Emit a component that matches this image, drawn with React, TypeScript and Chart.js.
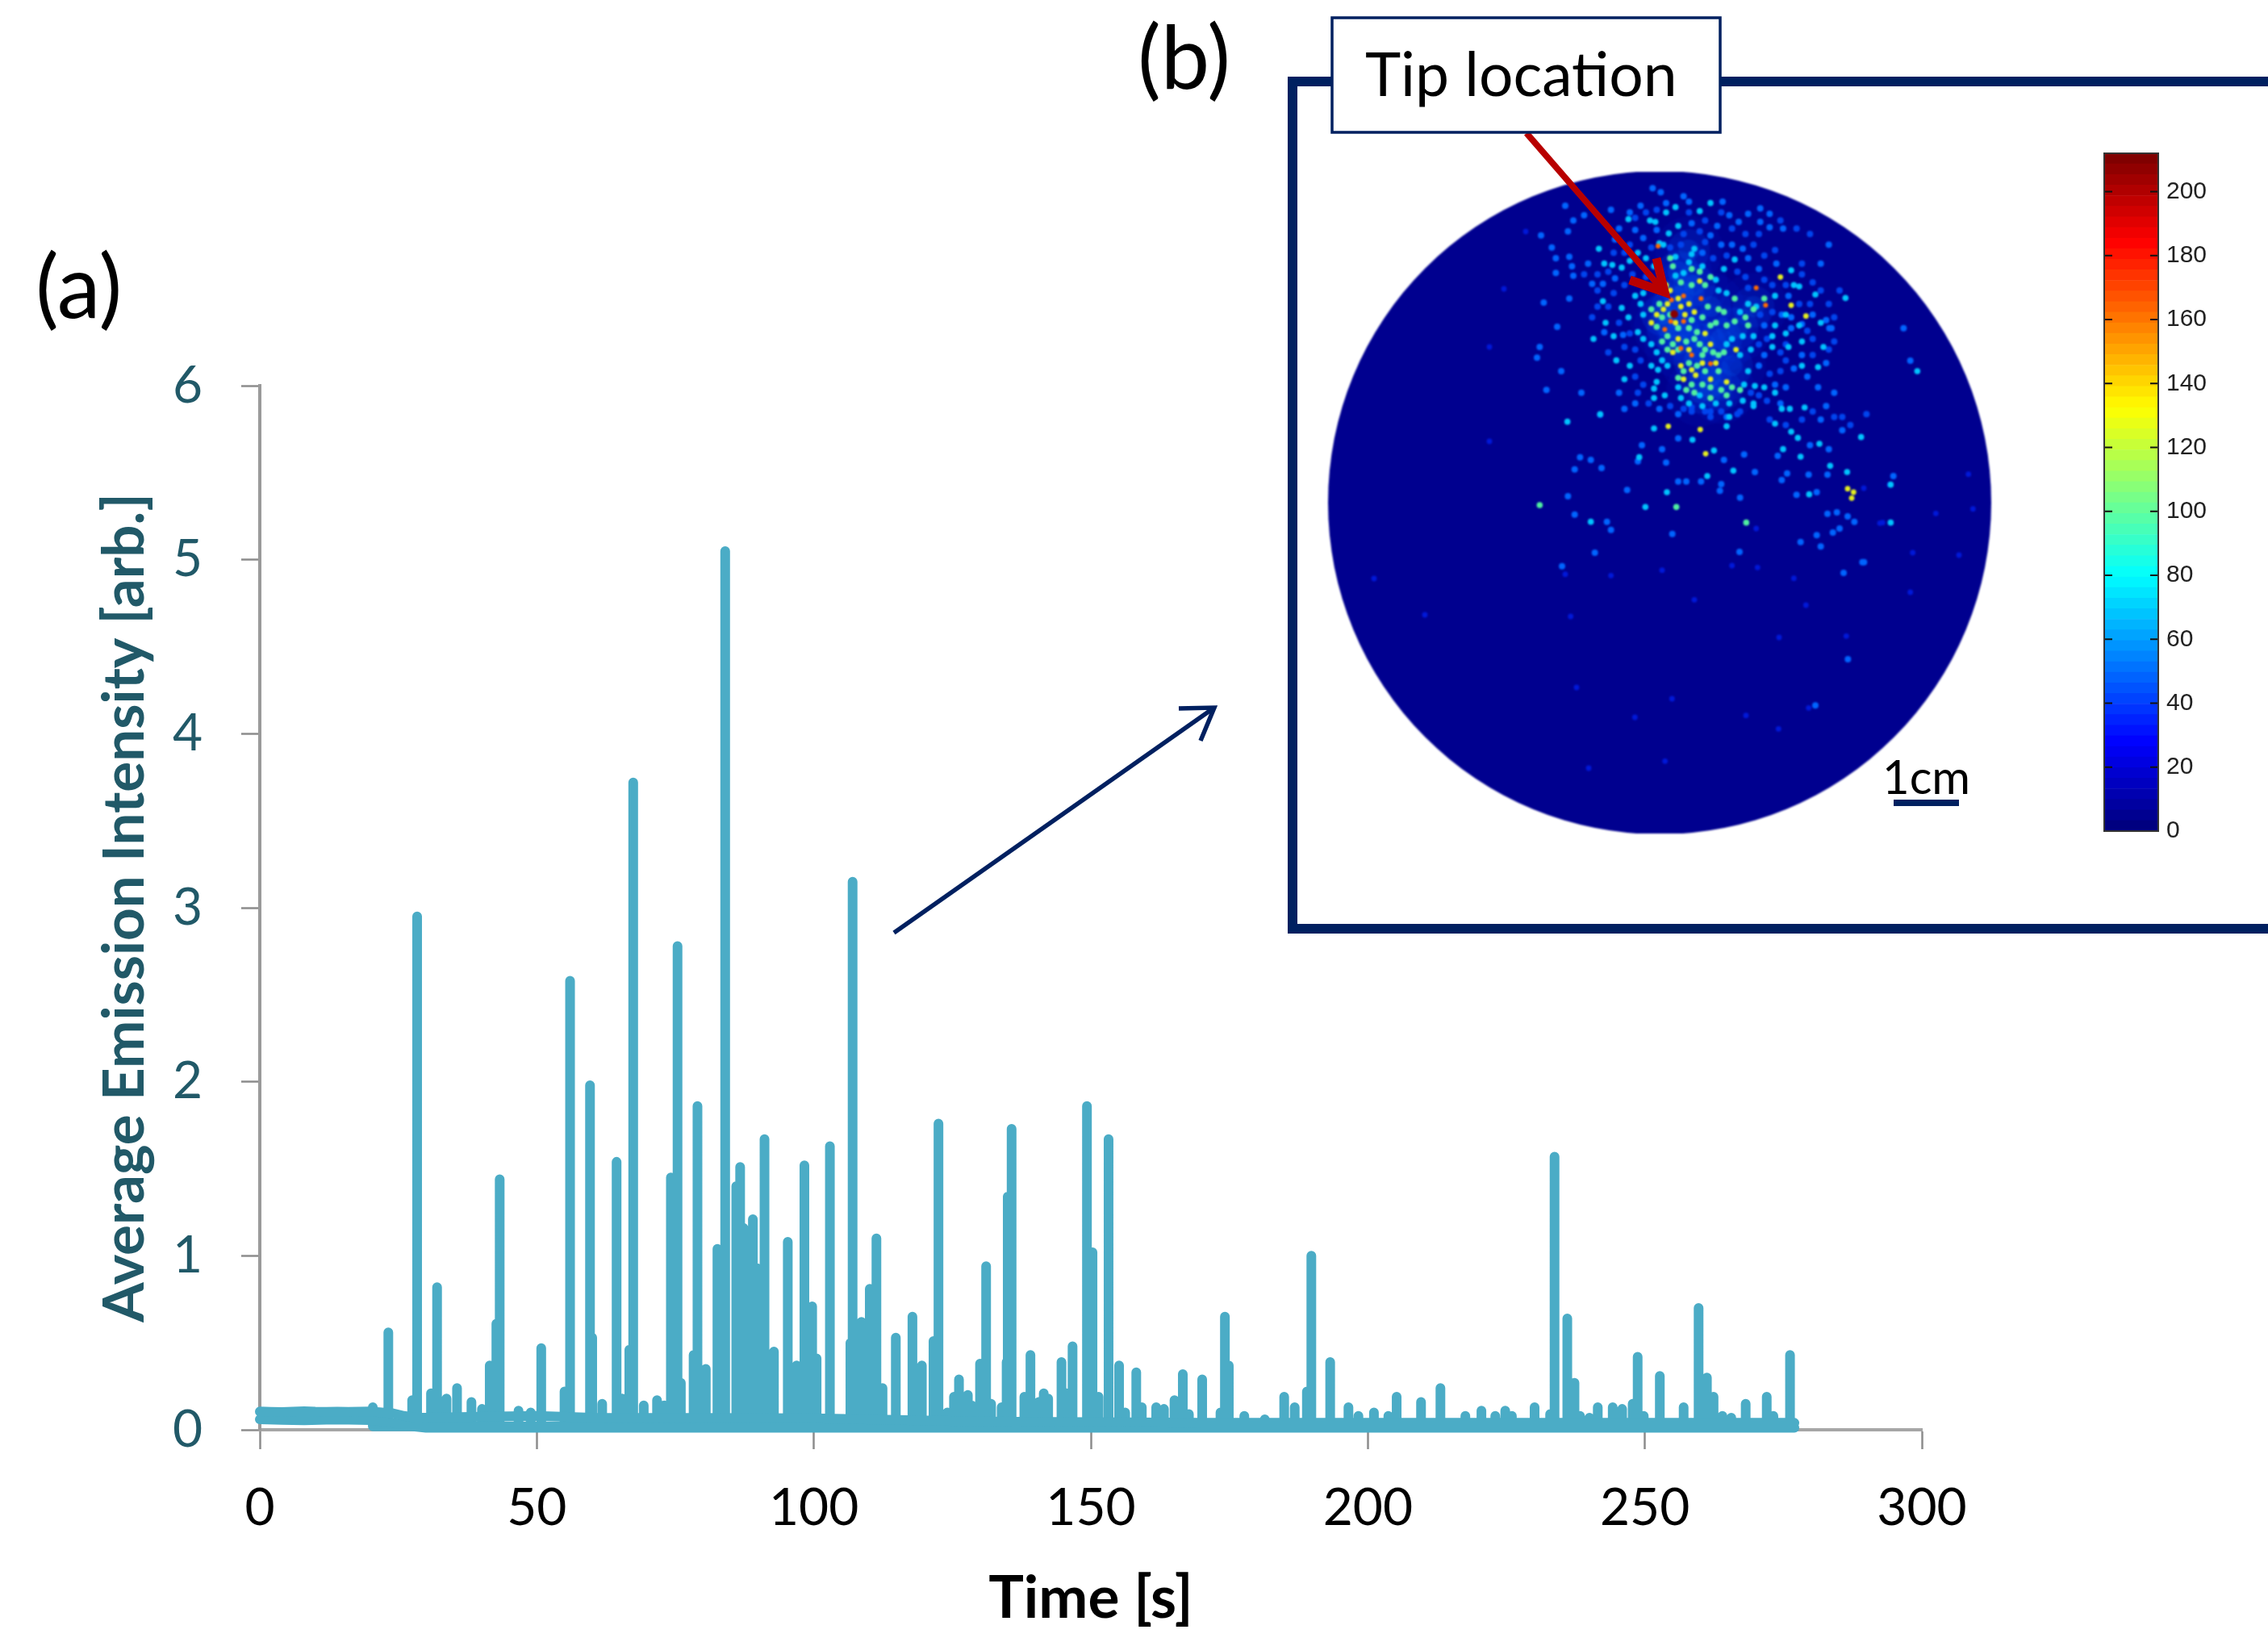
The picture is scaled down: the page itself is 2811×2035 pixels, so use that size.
import React, { useEffect, useRef } from "react";
import { Chart, registerables } from "chart.js";

Chart.register(...registerables);

// ---------- panel (a): emission trace ----------
const peakTimes = [20.4,23.2,27.5,28.4,30.9,32.0,33.7,35.6,38.2,40.1,41.5,42.7,43.3,46.7,48.9,50.8,55,56,59.6,60,61.8,64.4,65.4,66.7,67.4,69.3,71.7,73,74.2,75.4,76,78.3,79,80.5,82.6,84,86,86.7,87.3,88.1,89,89.7,91.1,92.8,95.3,96.9,98.3,99.7,100.5,102.9,106.6,107,107.6,108.6,110.1,111.3,112.4,114.8,117.8,119.5,121.6,122.5,124.1,125.3,126.2,127.8,128.5,130,131.1,132,133.9,134.8,135,135.7,138,139.1,140.6,141.5,142.3,144.7,145.6,146.7,149.3,150.3,151.4,153.2,155.1,156.2,158.2,159.2,161.8,163.2,165.1,166.6,167.7,170.1,173.4,174.2,174.9,177.7,181.4,184.9,186.8,189,189.8,193.2,196.5,198.3,201.1,203.7,205.2,209.6,213.1,217.6,220.5,223,224.8,226,230.1,232.9,233.7,236,237.3,238.3,240,241.5,244.2,245.9,247.8,248.7,249.8,252.7,257,259.7,261.2,262.4,264,265.6,268.2,272,273.2,276.2];
const peakValues = [0.13,0.56,0.17,2.95,0.21,0.82,0.18,0.24,0.16,0.12,0.37,0.61,1.44,0.11,0.1,0.47,0.22,2.58,1.98,0.53,0.15,1.54,0.18,0.46,3.72,0.14,0.17,0.14,1.45,2.78,0.27,0.43,1.86,0.35,1.04,5.05,1.4,1.51,1.16,1.01,1.21,0.93,1.67,0.45,1.08,0.37,1.52,0.71,0.41,1.63,0.5,3.15,0.61,0.62,0.81,1.1,0.24,0.53,0.65,0.37,0.51,1.76,0.1,0.19,0.29,0.2,0.14,0.38,0.94,0.15,0.13,0.39,1.34,1.73,0.19,0.43,0.16,0.21,0.18,0.39,0.21,0.48,1.86,1.02,0.19,1.67,0.37,0.1,0.33,0.13,0.13,0.12,0.17,0.32,0.09,0.29,0.1,0.65,0.37,0.08,0.06,0.19,0.13,0.22,1,0.39,0.13,0.08,0.1,0.08,0.19,0.16,0.24,0.08,0.11,0.08,0.11,0.08,0.13,0.09,1.57,0.64,0.27,0.08,0.07,0.13,0.13,0.12,0.15,0.42,0.08,0.31,0.13,0.7,0.3,0.19,0.08,0.07,0.15,0.19,0.08,0.43];
const peakFloor = 0.02;

const upperBandTimes = [0,2,4,6,8,10,12,14,16,18,20,22,24,26,28,30,40,50,60,80,100,130,170,220,277];
const upperBandValues = [0.105,0.103,0.102,0.104,0.107,0.104,0.103,0.104,0.103,0.104,0.105,0.1,0.095,0.08,0.07,0.07,0.075,0.08,0.07,0.068,0.066,0.048,0.04,0.04,0.04];
const lowerBandTimes = [0,4,8,12,16,20,22,24,26,28,30,277];
const lowerBandValues = [0.06,0.057,0.055,0.058,0.058,0.056,0.05,0.04,0.03,0.018,0.012,0.012];

const timeTicks = [0, 50, 100, 150, 200, 250, 300];
const intensityTicks = [0, 1, 2, 3, 4, 5, 6];

// ---------- panel (b): detector image, spot positions in detector units ----------
const spotsCore = [[585,508]];
const spotsRed = [[575,455],[572,535],[550,565],[620,535],[720,692],[685,450],[925,475],[890,410],[610,635],[650,660],[620,440],[525,255]];
const spotsYellow = [[545,490],[560,470],[610,480],[520,510],[500,540],[625,510],[590,540],[555,400],[570,420],[600,450],[640,470],[660,500],[580,650],[610,700],[650,715],[665,735],[720,750],[780,760],[700,580],[720,620],[640,640],[600,600],[1020,475],[980,370],[680,385],[815,640],[1075,515],[620,750],[740,690],[690,690],[682,937],[1230,1157],[1245,1192],[1252,1170],[702,1027],[563,925]];
const spotsGreen = [[530,470],[500,490],[540,520],[520,555],[570,510],[650,530],[640,560],[670,575],[600,560],[560,590],[580,620],[540,610],[600,640],[560,640],[630,610],[680,620],[660,600],[700,640],[730,650],[750,660],[770,650],[690,660],[640,690],[670,700],[620,720],[700,720],[750,720],[720,780],[760,790],[800,780],[690,770],[650,770],[630,790],[660,800],[720,820],[780,810],[830,790],[600,745],[570,300],[580,330],[650,340],[680,350],[720,370],[700,400],[650,400],[610,390],[880,490],[920,450],[810,450],[770,500],[810,535],[850,520],[860,550],[780,550],[740,540],[720,550],[690,520],[710,480],[750,490],[85,1218],[593,1225],[853,1283]];
const spotsCyan = [[600,180],[565,208],[530,245],[495,160],[415,155],[305,265],[660,265],[650,285],[545,250],[590,295],[640,315],[690,330],[620,355],[590,365],[530,350],[510,330],[480,300],[450,280],[420,310],[325,320],[355,325],[390,335],[320,460],[390,485],[415,520],[470,430],[440,440],[460,470],[470,510],[450,575],[470,600],[500,620],[520,650],[540,680],[420,700],[500,700],[525,715],[560,700],[520,760],[510,785],[510,820],[550,810],[610,820],[640,840],[600,780],[680,810],[690,850],[740,840],[790,840],[840,830],[880,840],[845,770],[860,720],[830,660],[870,640],[880,590],[840,590],[800,600],[780,620],[830,500],[860,470],[890,480],[780,430],[750,420],[740,380],[770,340],[810,305],[960,440],[1030,400],[1050,405],[1020,345],[950,630],[1060,610],[1010,630],[1060,700],[1120,705],[1070,855],[1015,860],[985,860],[885,775],[920,780],[960,800],[720,95],[680,125],[555,130],[515,165],[590,110],[310,880],[400,750],[370,680],[285,600],[330,540],[360,590],[1140,630],[1000,580],[1050,550],[1110,435],[1000,510],[960,550],[950,590],[1130,540],[188,908],[558,1170],[708,1110],[653,975],[733,1015],[1020,945],[960,915],[1045,968],[990,1010],[1165,1072],[1087,1178],[1390,1142],[1390,1283],[275,1280],[478,1225],[1055,1038],[1125,990],[1280,965],[1228,1095],[805,1090],[510,933],[455,1040],[780,925],[790,890],[880,850],[1222,448],[1489,720]];
const spotsBlue = [[505,40],[535,55],[350,120],[420,130],[460,105],[555,95],[640,90],[620,70],[765,90],[790,140],[825,165],[860,135],[905,165],[940,135],[905,115],[990,190],[940,185],[745,180],[720,215],[650,170],[520,195],[440,195],[470,225],[380,190],[365,230],[840,265],[800,250],[760,250],[690,280],[860,300],[900,340],[965,320],[1130,320],[1160,250],[195,295],[205,330],[145,300],[145,355],[130,260],[210,365],[265,320],[280,395],[320,395],[365,375],[195,450],[100,465],[75,670],[85,630],[150,555],[165,720],[110,790],[240,800],[380,800],[325,575],[395,585],[1010,440],[1100,510],[1150,530],[1170,560],[1060,545],[1020,560],[1060,660],[1150,690],[1150,850],[1000,780],[960,770],[920,660],[900,700],[1030,710],[1080,740],[1120,780],[1180,800],[920,550],[985,510],[1020,520],[250,140],[180,105],[210,160],[90,215],[190,200],[440,840],[530,860],[600,880],[400,860],[780,890],[980,840],[310,882],[235,1040],[215,1085],[315,1080],[275,1050],[410,1162],[190,1185],[215,1253],[335,1280],[350,1310],[290,1395],[168,1445],[578,1325],[600,1130],[630,1130],[685,1130],[760,1140],[755,1165],[830,1190],[885,1095],[1005,1100],[1085,1105],[1155,1105],[985,1125],[1040,1180],[1115,1170],[1155,1250],[1190,1245],[1230,1260],[1255,1280],[1200,1305],[1175,1320],[1115,1330],[1055,1355],[1130,1372],[1285,1430],[1215,1470],[828,1392],[600,970],[465,995],[450,1055],[555,1060],[540,1010],[770,1050],[845,1030],[970,1035],[1090,995],[1160,1010],[1210,940],[1130,900],[1400,1110],[1162,560],[1463,681],[1438,560],[1231,1791],[1110,1963],[1291,1430]];
const spotsBlueExtra = [[440,150],[480,130],[520,120],[640,130],[700,160],[760,130],[800,190],[850,210],[900,210],[980,160],[1040,190],[1090,210],[620,210],[680,200],[500,260],[420,250],[400,280],[360,280],[340,350],[300,360],[250,360],[400,400],[360,430],[300,420],[340,480],[300,480],[280,520],[380,540],[420,580],[400,630],[440,640],[340,650],[460,680],[440,740],[470,770],[450,800],[490,840],[570,850],[650,870],[720,870],[830,870],[930,830],[900,810],[870,800],[940,730],[980,720],[1000,680],[1100,660],[1160,640],[1180,610],[1100,600],[1080,570],[1000,620],[980,650],[930,600],[900,620],[905,510],[950,500],[1050,470],[1090,470],[1160,470],[1100,390],[1060,360],[1000,400],[950,400],[920,380],[850,370],[820,350],[860,410],[780,290],[730,300],[700,240],[610,250],[570,260],[480,370],[430,360],[1180,520],[1200,420],[1130,420],[1060,320],[960,270],[880,250],[920,290],[620,860],[650,855],[700,870],[720,890],[760,870],[820,880],[940,900],[1000,920],[1060,900],[1100,870],[1180,890],[1240,920],[1210,890],[1300,880]];
const spotsFaint = [[180,1475],[350,1480],[200,1632],[540,1460],[660,1570],[1075,1590],[975,1710],[1225,1705],[1030,1490],[800,1443],[895,1450],[1350,1285],[1290,1155],[890,1305],[1386,1142],[1696,1232],[1644,1404],[1558,1249],[1472,1395],[1463,1542],[1085,1972],[577,1938],[439,2007],[551,2170],[267,2196],[852,2000],[973,2050],[1679,1103],[1360,1283],[-342,1626],[-531,1491],[-48,414],[-102,630],[33,201],[-102,981],[222,1896]];
const hazeCentres = [[580,480],[560,560],[600,620],[660,680],[720,740],[760,790],[640,560],[700,620],[620,430],[540,510],[760,600],[800,700],[680,800],[600,350],[660,400],[720,480],[820,560],[640,270],[880,480]];
const discCentre = [[531, 1209]];

const colorbarMax = 212;
const colorbarLevelCount = 64;
const colorbarTicks = [0,20,40,60,80,100,120,140,160,180,200];

const W = 2811;
const H = 2035;
const NAVY = "#002060";
const TRACE = "#4bacc6";
const TEAL = "#215968";
const FONT = "Lato";

function jet(t: number): string {
  const ramp = (v: number) => Math.round(255 * Math.max(0, Math.min(1, v)));
  return `rgb(${ramp(1.5 - Math.abs(4 * t - 3))},${ramp(1.5 - Math.abs(4 * t - 2))},${ramp(1.5 - Math.abs(4 * t - 1))})`;
}

const peakPoints = peakTimes.flatMap((t, i) => [
  { x: t, y: peakFloor },
  { x: t, y: peakValues[i] },
  { x: t, y: peakFloor },
]);
const zip = (xs: number[], ys: number[]) => xs.map((x, i) => ({ x, y: ys[i] }));
const toPts = (a: number[][]) => a.map(([x, y]) => ({ x, y }));

function openArrow(
  ctx: CanvasRenderingContext2D,
  from: number[],
  tip: number[],
  w1: number[],
  w2: number[],
  color: string,
  lw: number,
  headLw: number
) {
  ctx.strokeStyle = color;
  ctx.lineCap = "butt";
  ctx.lineWidth = lw;
  ctx.beginPath();
  ctx.moveTo(from[0], from[1]);
  ctx.lineTo(tip[0], tip[1]);
  ctx.stroke();
  ctx.lineWidth = headLw;
  ctx.lineJoin = "miter";
  ctx.beginPath();
  ctx.moveTo(w1[0], w1[1]);
  ctx.lineTo(tip[0], tip[1]);
  ctx.lineTo(w2[0], w2[1]);
  ctx.stroke();
}

const annotationPlugin = {
  id: "annotations",
  afterDraw(chart: any) {
    const ctx: CanvasRenderingContext2D = chart.ctx;
    ctx.save();
    // inset frame, open on the right
    ctx.strokeStyle = NAVY;
    ctx.lineWidth = 12;
    ctx.lineJoin = "miter";
    ctx.beginPath();
    ctx.moveTo(W + 10, 101);
    ctx.lineTo(1602, 101);
    ctx.lineTo(1602, 1151);
    ctx.lineTo(W + 10, 1151);
    ctx.stroke();
    // navy arrow
    openArrow(ctx, [1108, 1156], [1505, 877], [1461, 878], [1488, 918], NAVY, 5.5, 5.5);
    // red arrow
    openArrow(ctx, [1892, 165], [2063, 362], [2053, 320], [2020, 347], "#b80000", 8, 11);
    // callout
    ctx.fillStyle = "#fff";
    ctx.fillRect(1651, 22, 481, 142);
    ctx.strokeStyle = NAVY;
    ctx.lineWidth = 3.5;
    ctx.strokeRect(1651, 22, 481, 142);
    // scale bar
    ctx.fillStyle = NAVY;
    ctx.fillRect(2347, 991, 81, 8);
    // text
    ctx.fillStyle = "#000";
    ctx.textBaseline = "alphabetic";
    ctx.textAlign = "left";
    ctx.font = `108px ${FONT}`;
    ctx.fillText("(a)", 44, 394);
    ctx.fillText("(b)", 1410, 110);
    ctx.font = `75px ${FONT}`;
    ctx.fillText("Tip location", 1692, 119);
    ctx.font = `58px ${FONT}`;
    ctx.fillText("1cm", 2333, 984);
    ctx.restore();
  },
};

const colorbarTickPlugin = {
  id: "colorbarTicks",
  afterDraw(chart: any) {
    const ctx: CanvasRenderingContext2D = chart.ctx;
    const { left, right, top, bottom } = chart.chartArea;
    const y = chart.scales.y;
    ctx.save();
    ctx.strokeStyle = "#111";
    ctx.lineWidth = 2;
    colorbarTicks.forEach((v) => {
      const p = y.getPixelForValue(v);
      ctx.beginPath();
      ctx.moveTo(left, p);
      ctx.lineTo(left + 10, p);
      ctx.moveTo(right - 10, p);
      ctx.lineTo(right, p);
      ctx.stroke();
    });
    ctx.strokeStyle = "#333";
    ctx.strokeRect(left, top, right - left, bottom - top);
    ctx.restore();
  },
};

export default function App() {
  const mainRef = useRef<HTMLCanvasElement>(null);
  const heatRef = useRef<HTMLCanvasElement>(null);
  const barRef = useRef<HTMLCanvasElement>(null);

  useEffect(() => {
    const traceLine = {
      showLine: true,
      borderColor: TRACE,
      backgroundColor: TRACE,
      borderWidth: 12,
      pointRadius: 0,
      borderCapStyle: "round",
      borderJoinStyle: "round",
      tension: 0,
      clip: false,
    };
    const main = new Chart(mainRef.current!, {
      type: "scatter",
      data: {
        datasets: [
          { label: "upper", data: zip(upperBandTimes, upperBandValues), ...traceLine },
          { label: "lower", data: zip(lowerBandTimes, lowerBandValues), ...traceLine },
          { label: "Average emission", data: peakPoints, ...traceLine },
        ] as any,
      },
      options: {
        responsive: false,
        animation: false,
        events: [],
        layout: { autoPadding: false, padding: { left: 0, right: W - 2382, top: 478, bottom: 0 } },
        plugins: { legend: { display: false }, tooltip: { enabled: false } },
        scales: {
          x: {
            type: "linear",
            min: 0,
            max: 300,
            afterFit: (s: any) => { s.height = H - 1772; },
            afterBuildTicks: (s: any) => { s.ticks = timeTicks.map((value) => ({ value })); },
            grid: { drawOnChartArea: false, tickLength: 24, tickWidth: 2.5, tickColor: "#8c8c8c" },
            border: { color: "#a6a6a6", width: 4 },
            ticks: { color: "#000", padding: 35, maxRotation: 0, font: { family: FONT, size: 64 } },
            title: {
              display: true,
              text: "Time [s]",
              color: "#000",
              padding: { top: 0, bottom: 10 },
              font: { family: FONT, size: 73, weight: "bold" },
            },
          },
          y: {
            type: "linear",
            min: 0,
            max: 6,
            afterFit: (s: any) => { s.width = 322; },
            afterBuildTicks: (s: any) => { s.ticks = intensityTicks.map((value) => ({ value })); },
            grid: { drawOnChartArea: false, tickLength: 23, tickWidth: 2.5, tickColor: "#8c8c8c" },
            border: { color: "#9a9a9a", width: 4 },
            ticks: { color: TEAL, padding: 48, font: { family: FONT, size: 64 } },
            title: {
              display: true,
              text: "Average Emission Intensity [arb.]",
              color: TEAL,
              padding: { top: 113, bottom: 0 },
              font: { family: FONT, size: 71, weight: "bold" },
            },
          },
        },
      } as any,
      plugins: [annotationPlugin],
    });

    const spotSet = (label: string, pts: number[][], color: string, radius: number) => ({
      label,
      data: toPts(pts),
      backgroundColor: color,
      pointRadius: radius,
      pointBorderWidth: 0,
      clip: false,
    });
    const heat = new Chart(heatRef.current!, {
      type: "scatter",
      data: {
        datasets: [
          spotSet("Spot core", spotsCore, "#8a0000", 5),
          spotSet("Spots 170+", spotsRed, "#ff6a00", 3),
          spotSet("Spots 130", spotsYellow, "#e4ee20", 3.4),
          spotSet("Spots 100", spotsGreen, "#50f0a0", 3.8),
          spotSet("Spots 70", spotsCyan, "#00c4ff", 3.8),
          spotSet("Spots 40", spotsBlue, "#0064ff", 4),
          spotSet("Spots 30", spotsBlueExtra, "#0044ee", 4),
          spotSet("Spots 20", spotsFaint, "#0018d8", 3.4),
          spotSet("Haze inner", hazeCentres, "rgba(0,120,255,0.16)", 13),
          spotSet("Haze middle", hazeCentres, "rgba(0,90,255,0.14)", 26),
          spotSet("Haze outer", hazeCentres, "rgba(0,60,255,0.07)", 42),
          spotSet("Detector", discCentre, "#00008f", 411),
        ] as any,
      },
      options: {
        responsive: false,
        animation: false,
        events: [],
        layout: { autoPadding: false, padding: 0 },
        plugins: { legend: { display: false }, tooltip: { enabled: false } },
        scales: {
          x: { type: "linear", min: -702, max: 1767, display: false },
          y: { type: "linear", min: -21, max: 2439, reverse: true, display: false },
        },
      } as any,
    });

    const levels = Array.from({ length: colorbarLevelCount }, (_, i) => i);
    const bar = new Chart(barRef.current!, {
      type: "bar",
      data: {
        labels: [""],
        datasets: levels.map((i) => ({
          label: String(i),
          data: [colorbarMax / colorbarLevelCount],
          backgroundColor: jet(i / (colorbarLevelCount - 1)),
          borderWidth: 0,
          barPercentage: 1,
          categoryPercentage: 1,
          stack: "c",
        })),
      },
      options: {
        responsive: false,
        animation: false,
        events: [],
        layout: { autoPadding: false, padding: { left: 8, right: 0, top: 20, bottom: 20 } },
        plugins: { legend: { display: false }, tooltip: { enabled: false } },
        scales: {
          x: { stacked: true, display: false },
          y: {
            stacked: true,
            position: "right",
            min: 0,
            max: colorbarMax,
            afterFit: (s: any) => { s.width = 75; s.paddingTop = 0; s.paddingBottom = 0; },
            afterBuildTicks: (s: any) => { s.ticks = colorbarTicks.map((value) => ({ value })); },
            grid: { display: false, drawTicks: false },
            border: { display: false },
            ticks: { color: "#222", padding: 10, font: { family: "Liberation Sans", size: 30 } },
          },
        },
      } as any,
      plugins: [colorbarTickPlugin],
    });

    return () => {
      main.destroy();
      heat.destroy();
      bar.destroy();
    };
  }, []);

  return (
    <div style={{ position: "absolute", left: 0, top: 0, width: W, height: H, overflow: "hidden", background: "#fff" }}>
      <canvas
        ref={heatRef}
        width={823}
        height={820}
        style={{ position: "absolute", left: 1646, top: 213, width: 823, height: 820, filter: "blur(1.3px)" }}
      />
      <canvas
        ref={barRef}
        width={150}
        height={880}
        style={{ position: "absolute", left: 2600, top: 170, width: 150, height: 880 }}
      />
      <canvas ref={mainRef} width={W} height={H} style={{ position: "absolute", left: 0, top: 0, width: W, height: H }} />
    </div>
  );
}
